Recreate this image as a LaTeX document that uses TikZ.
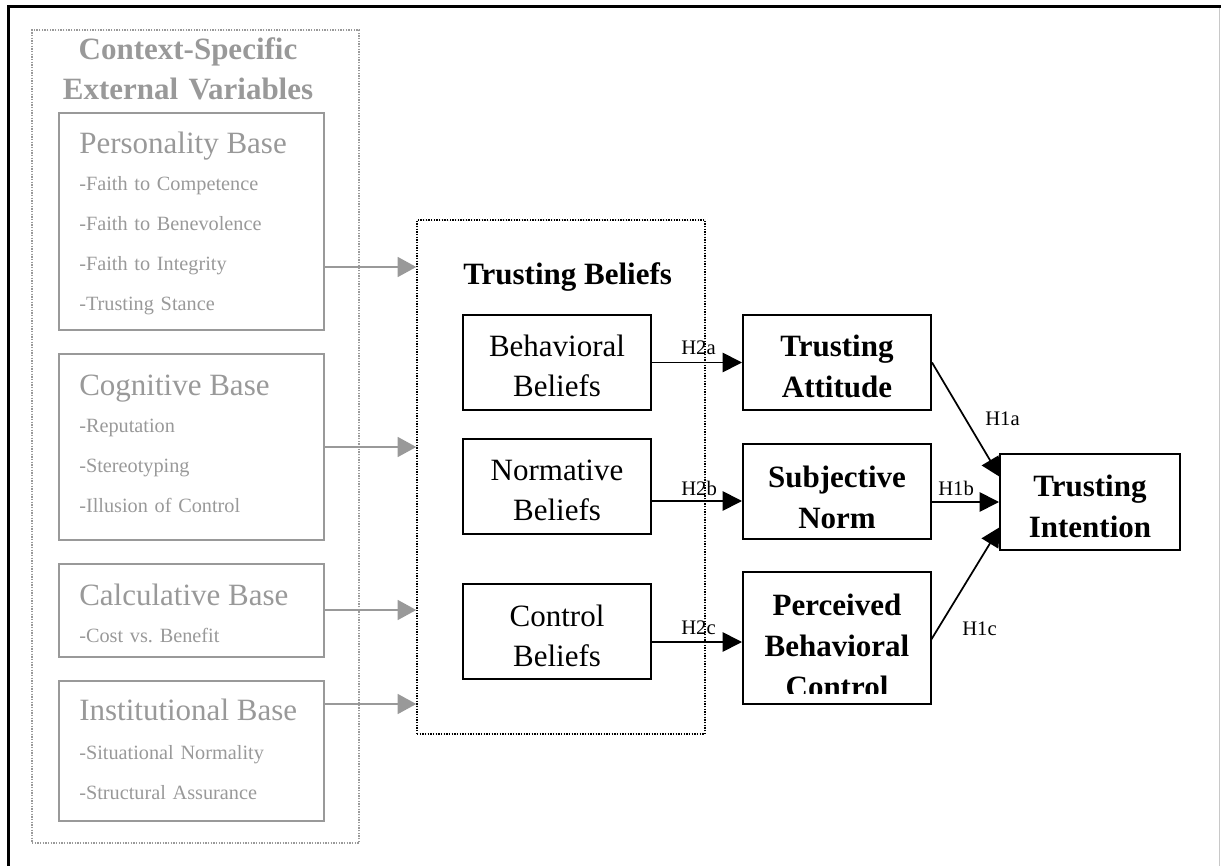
\documentclass[tikz,border=0pt]{standalone}
\usepackage{fontspec}
\setmainfont{Liberation Serif}
\usetikzlibrary{arrows.meta,fit}

\definecolor{softgray}{RGB}{153,153,153}
\definecolor{edgegray}{RGB}{200,200,200}

\begin{document}
\begin{tikzpicture}[x=0.75pt,y=-0.75pt,
  blackbox/.style={draw=black, line width=1.5pt, inner sep=0pt},
  greybox/.style={draw=softgray, line width=1.5pt, inner sep=0pt},
  dottedbox/.style={draw=#1, line width=1.1pt, dash pattern=on 1pt off 1pt, inner sep=0pt},
  plaintwo/.style={inner sep=0pt, anchor=base, text width=135pt, align=center,
    font=\fontsize{23.25}{30}\selectfont},
  boldtwo/.style={inner sep=0pt, anchor=base, text width=135pt, align=center,
    font=\bfseries\fontsize{23.25}{30.75}\selectfont},
  basehead/.style={inner sep=0pt, anchor=base west, text=softgray,
    font=\fontsize{23.25}{30}\selectfont},
  baseitems/.style={inner sep=0pt, anchor=base west, text=softgray, text width=190pt,
    align=left, font=\fontsize{15.2}{30}\selectfont},
  hyp/.style={inner sep=0pt, anchor=base west, font=\fontsize{15.5}{18}\selectfont},
  greyarrow/.style={draw=softgray, line width=1.3pt,
    -{Triangle[length=14pt,width=15pt]}, softgray},
  blackarrow/.style={draw=black, line width=1.3pt,
    -{Triangle[length=14.5pt,width=14.5pt]}}
]
\useasboundingbox (0,0) rectangle (1221,866);

% page frame
\draw[edgegray, line width=0.8pt] (1219.5,6.5) -- (1219.5,866);
\draw[black, line width=2.8pt] (8.5,866) -- (8.5,6.5) -- (1221,6.5);

% ---------------- external variables ----------------
\node[dottedbox=softgray, fit={(32,30) (359,843)}] (ext) {};
\node[inner sep=0pt, anchor=base, text width=225pt, align=center, text=softgray,
  font=\bfseries\fontsize{23.25}{30}\selectfont] (exttitle) at (188,60)
  {Context-Specific\\External Variables};

\node[greybox, fit={(59,113) (324,330)}] (pers) {};
\node[basehead] (pershead) at (79,154) {Personality Base};
\node[baseitems] (persitems) at (79,191)
  {-Faith to Competence\\-Faith to Benevolence\\-Faith to Integrity\\-Trusting Stance};

\node[greybox, fit={(59,354) (324,540)}] (cogn) {};
\node[basehead] (cognhead) at (79,395) {Cognitive Base};
\node[baseitems] (cognitems) at (79,432)
  {-Reputation\\-Stereotyping\\-Illusion of Control};

\node[greybox, fit={(59,564) (324,657)}] (calc) {};
\node[basehead] (calchead) at (79,605) {Calculative Base};
\node[baseitems] (calcitems) at (79,642) {-Cost vs.\ Benefit};

\node[greybox, fit={(59,681) (324,821)}] (inst) {};
\node[basehead] (insthead) at (79,720) {Institutional Base};
\node[baseitems] (institems) at (79,759)
  {-Situational Normality\\-Structural Assurance};

% ---------------- trusting beliefs ----------------
\node[dottedbox=black, fit={(417,220) (705,734)}] (tb) {};
\node[inner sep=0pt, anchor=base west, font=\bfseries\fontsize{23.25}{30}\selectfont]
  (tbtitle) at (463,285) {Trusting Beliefs};

\node[blackbox, fit={(463,315) (651,410)}] (bb) {};
\node[plaintwo] (bbtext) at (557,357) {Behavioral\\Beliefs};
\node[blackbox, fit={(463,439) (651,534)}] (nb) {};
\node[plaintwo] (nbtext) at (557,480) {Normative\\Beliefs};
\node[blackbox, fit={(463,584) (651,679)}] (cb) {};
\node[plaintwo] (cbtext) at (557,626) {Control\\Beliefs};

% ---------------- attitude, norm, control ----------------
\node[blackbox, fit={(743,315) (931,410)}] (ta) {};
\node[boldtwo] (tatext) at (837,357) {Trusting\\Attitude};
\node[blackbox, fit={(743,444) (931,539)}] (sn) {};
\node[boldtwo] (sntext) at (837,487) {Subjective\\Norm};
\node[blackbox, fit={(743,572) (931,704)}] (pbc) {};
\begin{scope}
  \clip (743,572) rectangle (931,693);
  \node[boldtwo] (pbctext) at (837,615) {Perceived\\Behavioral\\Control};
\end{scope}

\node[blackbox, fit={(1000,454) (1180,550)}] (ti) {};
\node[boldtwo] (titext) at (1090,496) {Trusting\\Intention};

% ---------------- connectors ----------------
\coordinate (ypers) at (0,267);
\coordinate (ycogn) at (0,447);
\coordinate (ycalc) at (0,610);
\coordinate (yinst) at (0,704);
\draw[greyarrow] (pers.east |- ypers) -- (tb.west |- ypers);
\draw[greyarrow] (cogn.east |- ycogn) -- (tb.west |- ycogn);
\draw[greyarrow] (calc.east |- ycalc) -- (tb.west |- ycalc);
\draw[greyarrow] (inst.east |- yinst) -- (tb.west |- yinst);

\coordinate (ynorm) at (0,501);
\coordinate (yctrl) at (0,642);
\draw[blackarrow] (bb.east) -- (ta.west);
\draw[blackarrow] (nb.east |- ynorm) -- (sn.west |- ynorm);
\draw[blackarrow] (cb.east |- yctrl) -- (pbc.west |- yctrl);
\node[hyp] (h2a) at (681,354) {H2a};
\node[hyp] (h2b) at (681,495) {H2b};
\node[hyp] (h2c) at (681,634) {H2c};

\coordinate (tiup) at (1000,477);
\coordinate (tidown) at (1000,527);
\coordinate (pbcout) at (931,640);
\draw[blackarrow] (ta.east) -- (tiup);
\draw[blackarrow] (sn.east |- ti.west) -- (ti.west);
\draw[blackarrow] (pbcout) -- (tidown);
\node[hyp] (h1a) at (985,425) {H1a};
\node[hyp] (h1b) at (938,495) {H1b};
\node[hyp] (h1c) at (962,635) {H1c};
\end{tikzpicture}
\end{document}
